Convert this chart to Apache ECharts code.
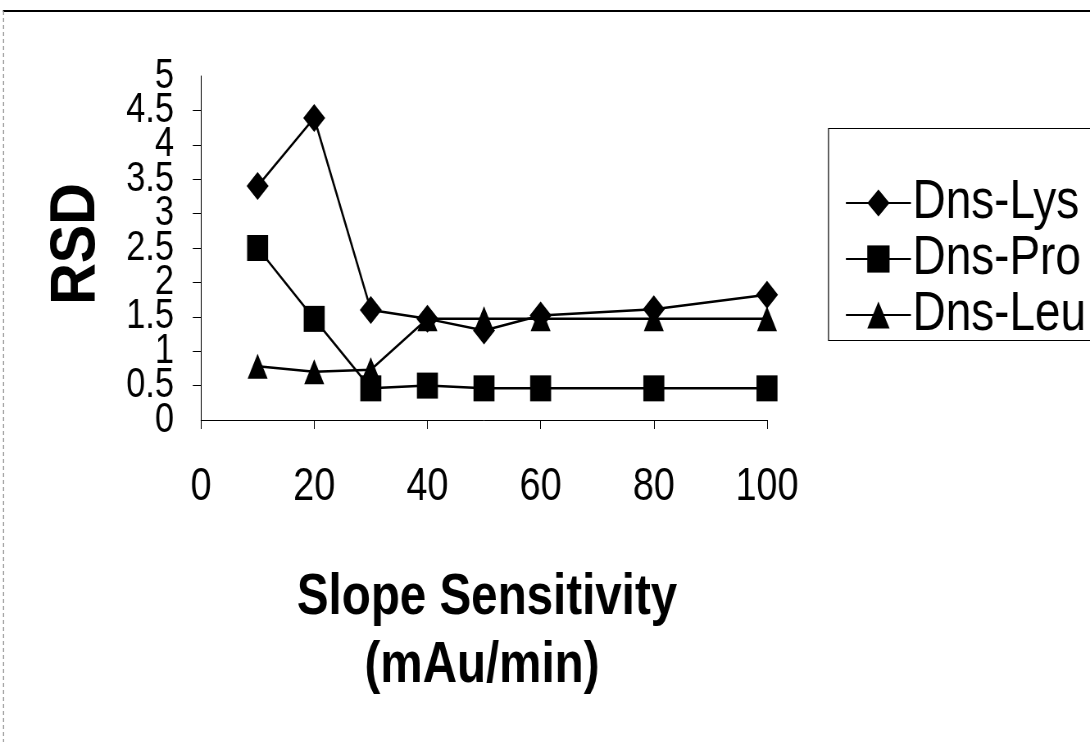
<!DOCTYPE html>
<html>
<head>
<meta charset="utf-8">
<script src="https://cdn.jsdelivr.net/npm/echarts@6/dist/echarts.min.js"></script>
<style>
html,body{margin:0;padding:0;background:#fff;overflow:hidden;}
#wrap{width:1090px;height:742px;overflow:hidden;position:relative;}
#chart{width:1330px;height:742px;transform:scaleX(0.81955);transform-origin:0 0;}
</style>
</head>
<body>
<div id="wrap"><div id="chart"></div></div>
<script>
const slopeSensitivity = [10, 20, 30, 40, 50, 60, 80, 100];
const dnsLys = [3.40, 4.39, 1.60, 1.47, 1.30, 1.52, 1.61, 1.82];
const dnsPro = [2.50, 1.47, 0.46, 0.50, 0.46, 0.46, 0.46, 0.46];
const dnsLeu = [0.78, 0.70, 0.73, 1.47, 1.47, 1.47, 1.47, 1.47];
const seriesNames = ['Dns-Lys', 'Dns-Pro', 'Dns-Leu'];
const xTitle = 'Slope Sensitivity';
const xTitle2 = '(mAu/min)';
const yTitle = 'RSD';

const SANS = '"Liberation Sans", Arial, sans-serif';
const S = 0.81955; // horizontal squeeze of the whole drawing
const X = v => v / S; // screen x -> chart x

function pairs(ys) { return slopeSensitivity.map((x, i) => [x, ys[i]]); }

const chart = echarts.init(document.getElementById('chart'), null, {renderer: 'canvas'});
const mk = (name, ys, symbol, size) => ({
  name: name,
  type: 'line',
  yAxisIndex: 0,
  data: pairs(ys),
  symbol: symbol,
  symbolSize: size,
  showAllSymbol: true,
  lineStyle: {color: '#000', width: 2.5},
  itemStyle: {color: '#000'},
  animation: false
});

const yLabel = {color: '#000', fontFamily: SANS, fontSize: 42, lineHeight: 28, margin: X(27), hideOverlap: false};

chart.setOption({
  backgroundColor: '#fff',
  animation: false,
  grid: {left: X(201), right: 1330 - X(767), top: 76, bottom: 322, containLabel: false},
  xAxis: {
    type: 'value', min: 0, max: 100, interval: 20,
    axisLine: {show: true, lineStyle: {color: '#000', width: 1}},
    axisTick: {show: true, inside: false, length: 9, lineStyle: {color: '#000'}},
    axisLabel: {color: '#000', fontFamily: SANS, fontSize: 46, margin: 44},
    splitLine: {show: false}
  },
  yAxis: [{
    type: 'value', min: 0, max: 5, interval: 0.5, position: 'left',
    axisLine: {show: true, onZero: false, lineStyle: {color: '#000', width: 1}},
    axisTick: {show: true, inside: false, length: 10, lineStyle: {color: '#000'}},
    axisLabel: Object.assign({}, yLabel, {showMinLabel: false, showMaxLabel: false}),
    splitLine: {show: false}
  }, {
    // same scale, only carries the end labels (0 and 5) so they are not hidden by overlap
    type: 'value', min: 0, max: 5, interval: 5, position: 'left', offset: 0,
    axisLine: {show: false}, axisTick: {show: false},
    axisLabel: Object.assign({}, yLabel, {showMinLabel: true, showMaxLabel: true}),
    splitLine: {show: false}
  }],
  legend: {
    orient: 'vertical',
    left: X(841), top: 170,
    itemWidth: X(65), itemHeight: 34,
    itemGap: 0,
    data: seriesNames,
    textStyle: {color: '#000', fontFamily: SANS, fontSize: 56, lineHeight: 54, padding: [0, 0, 0, -3]}
  },
  graphic: [
    {type: 'rect', silent: true, shape: {x: X(828.5), y: 128.5, width: 400, height: 212},
     style: {fill: null, stroke: '#000', lineWidth: 1.2}},
    {type: 'line', silent: true, shape: {x1: X(3), y1: 11, x2: 1330, y2: 11},
     style: {stroke: '#000', lineWidth: 2}},
    {type: 'line', silent: true, shape: {x1: X(3.5), y1: 11, x2: X(3.5), y2: 742},
     style: {stroke: '#888', lineWidth: 1.2, lineDash: [4, 3]}},
    {type: 'text', silent: true, x: X(77), y: 244, rotation: Math.PI / 2, scaleX: 0.96, scaleY: 1.3,
     style: {text: yTitle, fill: '#000', font: 'bold 60px ' + SANS, textAlign: 'center', textVerticalAlign: 'middle'}},
    {type: 'text', silent: true, x: X(487), y: 598,
     style: {text: xTitle, fill: '#000', font: 'bold 58px ' + SANS, textAlign: 'center', textVerticalAlign: 'middle'}},
    {type: 'text', silent: true, x: X(482), y: 666,
     style: {text: xTitle2, fill: '#000', font: 'bold 58px ' + SANS, textAlign: 'center', textVerticalAlign: 'middle'}}
  ],
  series: [
    mk(seriesNames[0], dnsLys, 'diamond', [X(22), 28]),
    mk(seriesNames[1], dnsPro, 'rect', [X(21), 26]),
    mk(seriesNames[2], dnsLeu, 'triangle', [X(20), 25])
  ]
});
</script>
</body>
</html>
